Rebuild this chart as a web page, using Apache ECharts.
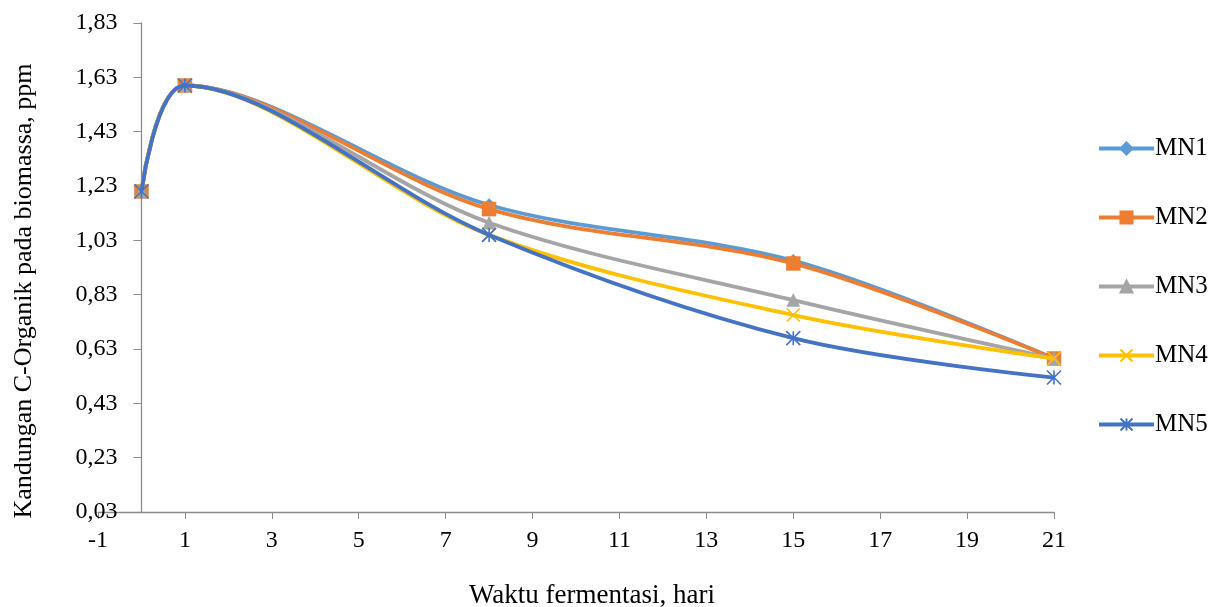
<!DOCTYPE html>
<html>
<head>
<meta charset="utf-8">
<script src="https://cdn.jsdelivr.net/npm/echarts@6/dist/echarts.min.js"></script>
<style>
html,body{margin:0;padding:0;background:#fff;}
#main{width:1215px;height:607px;}
</style>
</head>
<body>
<div id="main"></div>
<script>
// Data
var days = [0, 1, 8, 15, 21];
var seriesNames = ['MN1', 'MN2', 'MN3', 'MN4', 'MN5'];
var MN1 = [1.21, 1.60, 1.16, 0.955, 0.595];
var MN2 = [1.21, 1.60, 1.145, 0.945, 0.595];
var MN3 = [1.21, 1.60, 1.095, 0.81, 0.595];
var MN4 = [1.21, 1.60, 1.05, 0.755, 0.595];
var MN5 = [1.21, 1.60, 1.05, 0.67, 0.525];
var xTitle = 'Waktu fermentasi, hari';
var yTitle = 'Kandungan C-Organik pada biomassa, ppm';

var colors = ['#5B9BD5', '#ED7D31', '#A5A5A5', '#FFC000', '#4472C4'];
var symbols = [
  'diamond',
  'rect',
  'triangle',
  'path://M0,0L10,10M10,0L0,10',
  'path://M5,0L5,10M0,0L10,10M10,0L0,10'
];
var symbolSizes = [13, 14, 13, 13, 14];
var values = [MN1, MN2, MN3, MN4, MN5];

var FONT = '"Liberation Serif", "Times New Roman", serif';
var GRID_LEFT = 98, GRID_RIGHT = 161;
var PLOT_W = 1215 - GRID_LEFT - GRID_RIGHT;
var X_MIN = -1, X_MAX = 21;
// shift the y axis so that it crosses the x axis at 0
var yAxisOffset = -PLOT_W * (0 - X_MIN) / (X_MAX - X_MIN);

var series = seriesNames.map(function (name, i) {
  return {
    name: name,
    type: 'line',
    smooth: 0.33,
    data: days.map(function (d, j) { return [d, values[i][j]]; }),
    symbol: symbols[i],
    symbolSize: symbolSizes[i],
    showAllSymbol: true,
    lineStyle: { color: colors[i], width: 3.8 },
    itemStyle: { color: colors[i], borderColor: colors[i], borderWidth: (i >= 3 ? 1.6 : 0.5) },
    emphasis: { disabled: true },
    z: 2 + i
  };
});

var chart = echarts.init(document.getElementById('main'), null, { renderer: 'canvas' });
chart.setOption({
  animation: false,
  backgroundColor: '#ffffff',
  color: colors,
  grid: { left: GRID_LEFT, right: GRID_RIGHT, top: 23, bottom: 95, containLabel: false },
  xAxis: {
    type: 'value',
    min: X_MIN, max: X_MAX, interval: 2,
    axisLine: { onZero: false, lineStyle: { color: '#8c8c8c', width: 1.3 } },
    axisTick: { show: true, length: 7, lineStyle: { color: '#8c8c8c' } },
    splitLine: { show: false },
    axisLabel: { color: '#000', fontFamily: FONT, fontSize: 24, margin: 17 }
  },
  yAxis: {
    type: 'value',
    min: 0.03, max: 1.83, interval: 0.2,
    offset: yAxisOffset,
    axisLine: { show: true, onZero: false, lineStyle: { color: '#8c8c8c', width: 1.3 } },
    axisTick: { show: true, length: 8, lineStyle: { color: '#8c8c8c' } },
    splitLine: { show: false },
    axisLabel: {
      color: '#000', fontFamily: FONT, fontSize: 24, margin: 24,
      formatter: function (v) { return v.toFixed(2).replace('.', ','); }
    }
  },
  legend: {
    orient: 'vertical',
    left: 1092, top: 131,
    itemWidth: 55, itemHeight: 15, itemGap: 44,
    lineStyle: { width: 4 },
    textStyle: { color: '#000', fontFamily: FONT, fontSize: 25, lineHeight: 25, padding: [0, 0, 0, -4] },
    data: seriesNames
  },
  graphic: [
    {
      type: 'text', x: 24, y: 291, rotation: Math.PI / 2,
      style: { text: yTitle, font: '26px ' + FONT, fill: '#000', textAlign: 'center', textVerticalAlign: 'middle' }
    },
    {
      type: 'text', x: 592, y: 596,
      style: { text: xTitle, font: '27px ' + FONT, fill: '#000', textAlign: 'center', textVerticalAlign: 'middle' }
    }
  ],
  series: series
});
</script>
</body>
</html>
